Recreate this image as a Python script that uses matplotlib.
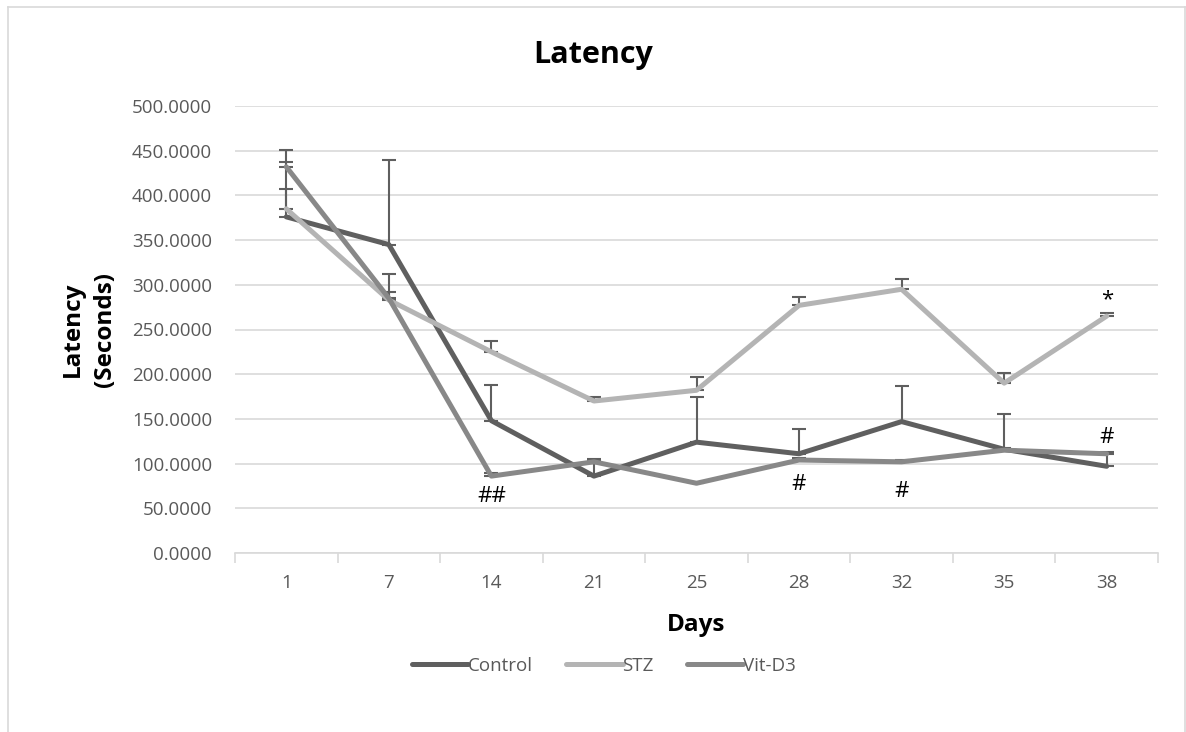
import numpy as np
import matplotlib.pyplot as plt
from matplotlib.lines import Line2D

days = ["1", "7", "14", "21", "25", "28", "32", "35", "38"]
control = [376, 345, 148, 86, 124, 111, 147, 116, 97]
control_err = [31, 95, 40, 18, 50, 28, 40, 39, 15]
stz = [385, 283, 225, 170, 182, 277, 295, 190, 265]
stz_err = [52, 29, 12, 5, 15, 9, 12, 11, 4]
vit = [432, 285, 86, 102, 78, 104, 102, 115, 111]
vit_err = [19, 7, 3, 3, 1, 2, 2, 2, 2]

# significance marks: (day index, y value, text)
marks = [(2, 63, "##"), (5, 77, "#"), (6, 69, "#"), (8, 129, "#"), (8, 283, "*")]

plt.rcParams["font.family"] = ["Open Sans", "DejaVu Sans"]
grid_c = "#d9d9d9"
text_c = "#595959"

fig = plt.figure(figsize=(11.86, 7.32), dpi=100)
ax = fig.add_axes([235 / 1186, 1 - 553 / 732, 923 / 1186, 447 / 732])

x = np.arange(len(days))
series = [
    ("Control", control, control_err, "#5f5f5f"),
    ("STZ", stz, stz_err, "#b4b4b4"),
    ("Vit-D3", vit, vit_err, "#888888"),
]
for name, vals, err, col in series:
    ax.errorbar(x, vals, yerr=[np.zeros(len(err)), err], fmt="none",
                ecolor="#5f5f5f", elinewidth=1.5, capsize=5, capthick=1.5, zorder=2)
for name, vals, err, col in series:
    ax.plot(x, vals, color=col, lw=3.6, solid_joinstyle="round",
            solid_capstyle="round", zorder=3, label=name)

for i, yv, t in marks:
    ax.text(i, yv, t, ha="center", va="center", fontsize=16, color="black", zorder=4)

ax.set_xlim(-0.5, len(days) - 0.5)
ax.set_ylim(0, 500)
ax.set_yticks(np.arange(0, 501, 50))
ax.set_yticklabels([f"{v:.4f}" for v in np.arange(0, 501, 50)])
ax.set_xticks(x)
ax.set_xticklabels(days)
ax.set_xticks(np.arange(-0.5, len(days)), minor=True)
ax.tick_params(axis="both", which="major", length=0, labelcolor=text_c)
ax.tick_params(axis="y", pad=16.5, labelsize=13.5)
ax.tick_params(axis="x", pad=15, labelsize=13.5)
ax.tick_params(axis="x", which="minor", length=7, color=grid_c, width=1.2)
ax.grid(axis="y", color=grid_c, lw=1.2)
ax.set_axisbelow(True)
for s in ["top", "right", "left"]:
    ax.spines[s].set_visible(False)
ax.spines["bottom"].set_color(grid_c)
ax.spines["bottom"].set_linewidth(1.2)

ax.set_xlabel("Days", fontsize=17.5, fontweight="bold", color="black")
ax.xaxis.set_label_coords(0.5, -0.135)
ax.set_ylabel("Latency\n(Seconds)", fontsize=17.5, fontweight="bold", color="black",
              linespacing=1.45)
ax.yaxis.set_label_coords(-0.128, 0.5)

fig.text(0.5, 1 - 55 / 732, "Latency", ha="center", va="center",
         fontsize=22, fontweight="bold")

handles = [Line2D([], [], color=c, lw=3.6, solid_capstyle="round") for _, _, _, c in series]
fig.legend(handles, [s[0] for s in series], loc="center",
           bbox_to_anchor=(604 / 1186, 1 - 666 / 732), ncol=3,
           frameon=False, handlelength=3.0, handletextpad=0.0, columnspacing=1.76,
           fontsize=13.5, labelcolor=text_c)

# chart area border
for coords in [([8, 8], [7, 732]), ([8, 1185], [7, 7]), ([1185, 1185], [7, 732])]:
    fig.add_artist(Line2D(np.array(coords[0]) / 1186, 1 - np.array(coords[1]) / 732,
                          color=grid_c, lw=1.2))

fig.savefig("out.png", dpi=100)
